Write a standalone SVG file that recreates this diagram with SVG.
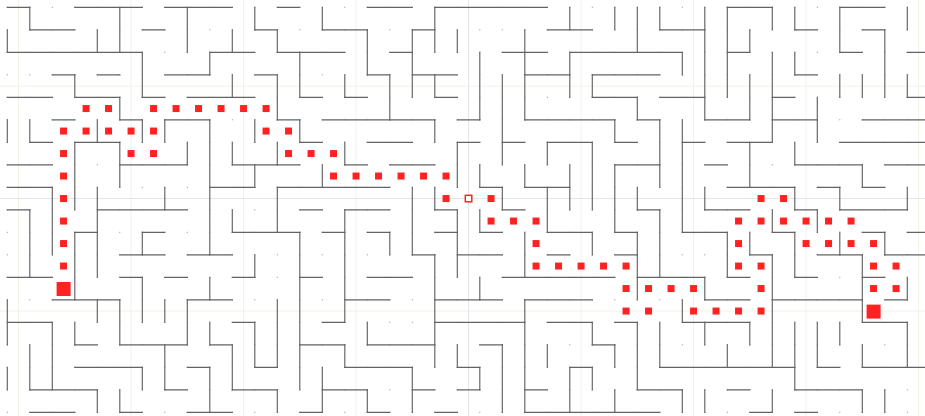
<svg xmlns="http://www.w3.org/2000/svg" width="925" height="416" viewBox="0 0 925 416">
<style>
.wall{fill:none;stroke:#636363;stroke-width:1.15;stroke-linecap:square}
.guide{stroke:#f2f2e8;stroke-width:1;fill:none}
.guide-main{stroke:#e4e4e4;stroke-width:1;fill:none}
.visited{fill:#ff2222}
.endpoint{fill:#ff2222}
</style>
<defs>
<pattern id="posts" x="6.8" y="6.8" width="22.5" height="22.5" patternUnits="userSpaceOnUse"><rect width="1" height="1" fill="#8a8a8a"/></pattern>
<rect id="d" x="-0.1556" y="-0.1556" width="0.3111" height="0.3111"/>
</defs>
<rect width="925" height="416" fill="#ffffff"/>
<g id="guides">
<path class="guide" d="M18.55 0V416M131.05 0V416M243.55 0V416M356.05 0V416M581.05 0V416M693.55 0V416M806.05 0V416M918.55 0V416M0 86.05H925M0 311.05H925"/>
<path class="guide-main" d="M468.55 0V416M0 198.55H925"/>
</g>
<rect id="grid-posts" x="6" y="6" width="903" height="408" fill="url(#posts)"/>
<g id="walls" transform="translate(7.3 7.3) scale(22.5)">
<path class="wall" vector-effect="non-scaling-stroke" d="M0 0H1M3 0H6M7 0H10M12 0H13M16 0H18M19 0H24M32 0H34M37 0H39
M1 1H3M6 1H7M11 1H12M14 1H16M18 1H19M24 1H26M29 1H31M35 1H36M38 1H39
M0 2H6M9 2H11M12 2H15M17 2H18M22 2H24M25 2H30M32 2H33M37 2H38M40 2H41
M2 3H3M4 3H5M7 3H9M11 3H12M16 3H17M18 3H20M23 3H25M26 3H29M35 3H36
M0 4H2M3 4H5M6 4H7M8 4H11M13 4H14M15 4H16M19 4H20M26 4H28M29 4H31M34 4H35M40 4H41
M2 5H3M5 5H6M7 5H9M12 5H13M14 5H19M20 5H21M23 5H27M28 5H29M31 5H33M34 5H36M38 5H41
M1 6H2M3 6H5M13 6H14M16 6H18M20 6H21M22 6H23M24 6H26M27 6H28M30 6H31M32 6H34M37 6H41
M0 7H2M5 7H8M10 7H13M15 7H16M17 7H19M27 7H29M31 7H32M35 7H38M39 7H41
M0 8H2M9 8H11M12 8H17M21 8H22M23 8H25M32 8H35M36 8H37M38 8H39
M0 9H1M4 9H8M13 9H14M15 9H17M19 9H20M22 9H23M28 9H29M31 9H33M35 9H36M37 9H40
M3 10H4M6 10H7M10 10H13M14 10H15M16 10H17M19 10H20M21 10H22M24 10H26M27 10H28M30 10H32M34 10H35M38 10H39M40 10H41
M5 11H7M8 11H10M18 11H19M20 11H22M24 11H25M27 11H28M33 11H34M36 11H38M39 11H41
M0 12H2M5 12H6M7 12H8M10 12H11M13 12H14M16 12H18M22 12H27M28 12H31M32 12H33M35 12H36M38 12H39
M2 13H5M8 13H10M15 13H17M19 13H22M23 13H26M31 13H33M34 13H38M39 13H40
M0 14H2M10 14H11M14 14H15M19 14H23M24 14H26M27 14H28M30 14H33M38 14H40
M3 15H4M5 15H8M9 15H10M13 15H15M16 15H19M21 15H22M26 15H27
M3 16H6M8 16H9M11 16H12M15 16H18M20 16H21M25 16H26M29 16H35M36 16H37M38 16H41
M1 17H4M7 17H8M10 17H12M14 17H16M18 17H19M20 17H21M23 17H24M28 17H30M32 17H33M35 17H38
M1 18H3M5 18H6M8 18H10M13 18H14M16 18H17M19 18H20M23 18H29M33 18H34M35 18H36"/>
<path class="wall" vector-effect="non-scaling-stroke" d="M0 1V2M0 5V6M0 13V15M0 16V17
M1 0V1M1 5V6M1 9V12M1 15V17
M2 8V11M2 14V17
M3 3V4M3 6V9M3 10V13M3 14V15
M4 1V2M4 5V6M4 8V12M4 13V14M4 17V18
M5 0V2M5 4V5M5 6V8M5 13V15M5 17V18
M6 2V4M6 5V6M6 10V11M6 12V14M6 16V17
M7 5V6M7 8V9M7 13V14M7 15V17
M8 0V2M8 6V7M8 13V15
M9 2V3M9 5V11M9 12V13M9 14V15M9 16V18
M10 1V2M10 3V4M10 6V7M10 9V10M10 15V17
M11 0V1M11 5V6M11 7V8M11 11V12M11 14V16
M12 1V2M12 3V5M12 6V7M12 8V10M12 13V16M12 17V18
M13 2V4M13 5V6M13 10V17
M14 0V1M14 7V8M14 16V18
M15 3V4M15 6V7M15 9V14M15 15V16
M16 1V3M16 14V15M16 17V18
M17 3V5M17 10V11
M18 1V4M18 8V11M18 16V18
M19 0V2M19 3V4M19 5V6M19 8V9M19 11V16
M20 1V2M20 6V8M20 9V12M20 15V16
M21 2V5M21 7V8M21 9V10M21 12V13M21 16V17
M22 3V7M22 8V9M22 15V18
M23 1V5M23 7V8M23 10V12M23 13V18
M24 6V7M24 8V10M24 15V16
M25 0V1M25 2V4M25 7V9M25 16V18
M26 3V4M26 6V9M26 10V11M26 14V15M26 16V17
M27 0V1M27 5V6M27 7V10M27 15V16M27 17V18
M28 0V2M28 4V5M28 8V9M28 10V13M28 14V17
M29 0V1M29 5V8M29 9V12M29 14V16
M30 2V3M30 5V10M30 13V14M30 17V18
M31 0V5M31 8V9M31 12V13M31 14V15M31 17V18
M32 0V4M32 10V12M32 15V16
M33 1V2M33 3V5M33 6V8M33 10V11M33 14V15
M34 0V1M34 2V6M34 9V10M34 11V16M34 17V18
M35 0V1M35 2V3M35 6V7M35 8V9M35 10V12M35 14V17
M36 4V6M36 9V10M36 14V16
M37 0V2M37 3V4M37 8V9M37 10V11M37 14V15
M38 3V4M38 7V8M38 11V14M38 15V16M38 17V18
M39 1V4M39 10V11M39 17V18
M40 0V1M40 3V4M40 8V9M40 12V13M40 14V16"/>
</g>
<g id="visited-cells" class="visited" transform="translate(18.55 18.55) scale(22.5)">
<use href="#d" x="3" y="4"/><use href="#d" x="4" y="4"/><use href="#d" x="6" y="4"/><use href="#d" x="7" y="4"/><use href="#d" x="8" y="4"/><use href="#d" x="9" y="4"/><use href="#d" x="10" y="4"/><use href="#d" x="11" y="4"/>
<use href="#d" x="2" y="5"/><use href="#d" x="3" y="5"/><use href="#d" x="4" y="5"/><use href="#d" x="5" y="5"/><use href="#d" x="6" y="5"/><use href="#d" x="11" y="5"/><use href="#d" x="12" y="5"/>
<use href="#d" x="2" y="6"/><use href="#d" x="5" y="6"/><use href="#d" x="6" y="6"/><use href="#d" x="12" y="6"/><use href="#d" x="13" y="6"/><use href="#d" x="14" y="6"/>
<use href="#d" x="2" y="7"/><use href="#d" x="14" y="7"/><use href="#d" x="15" y="7"/><use href="#d" x="16" y="7"/><use href="#d" x="17" y="7"/><use href="#d" x="18" y="7"/><use href="#d" x="19" y="7"/>
<use href="#d" x="2" y="8"/><use href="#d" x="19" y="8"/><use href="#d" x="21" y="8"/><use href="#d" x="33" y="8"/><use href="#d" x="34" y="8"/>
<use href="#d" x="2" y="9"/><use href="#d" x="21" y="9"/><use href="#d" x="22" y="9"/><use href="#d" x="23" y="9"/><use href="#d" x="32" y="9"/><use href="#d" x="33" y="9"/><use href="#d" x="34" y="9"/><use href="#d" x="35" y="9"/><use href="#d" x="36" y="9"/><use href="#d" x="37" y="9"/>
<use href="#d" x="2" y="10"/><use href="#d" x="23" y="10"/><use href="#d" x="32" y="10"/><use href="#d" x="35" y="10"/><use href="#d" x="36" y="10"/><use href="#d" x="37" y="10"/><use href="#d" x="38" y="10"/>
<use href="#d" x="2" y="11"/><use href="#d" x="23" y="11"/><use href="#d" x="24" y="11"/><use href="#d" x="25" y="11"/><use href="#d" x="26" y="11"/><use href="#d" x="27" y="11"/><use href="#d" x="32" y="11"/><use href="#d" x="33" y="11"/><use href="#d" x="38" y="11"/><use href="#d" x="39" y="11"/>
<use href="#d" x="27" y="12"/><use href="#d" x="28" y="12"/><use href="#d" x="29" y="12"/><use href="#d" x="30" y="12"/><use href="#d" x="33" y="12"/><use href="#d" x="38" y="12"/><use href="#d" x="39" y="12"/>
<use href="#d" x="27" y="13"/><use href="#d" x="28" y="13"/><use href="#d" x="30" y="13"/><use href="#d" x="31" y="13"/><use href="#d" x="32" y="13"/><use href="#d" x="33" y="13"/>
</g>
<rect id="current-cell" x="465.3" y="195.3" width="6.5" height="6.5" fill="#ffffff" stroke="#ff2222" stroke-width="1.5"/>
<rect id="start" class="endpoint" x="56.6" y="282" width="14" height="14"/>
<rect id="goal" class="endpoint" x="866.6" y="304.6" width="14" height="14"/>
</svg>
